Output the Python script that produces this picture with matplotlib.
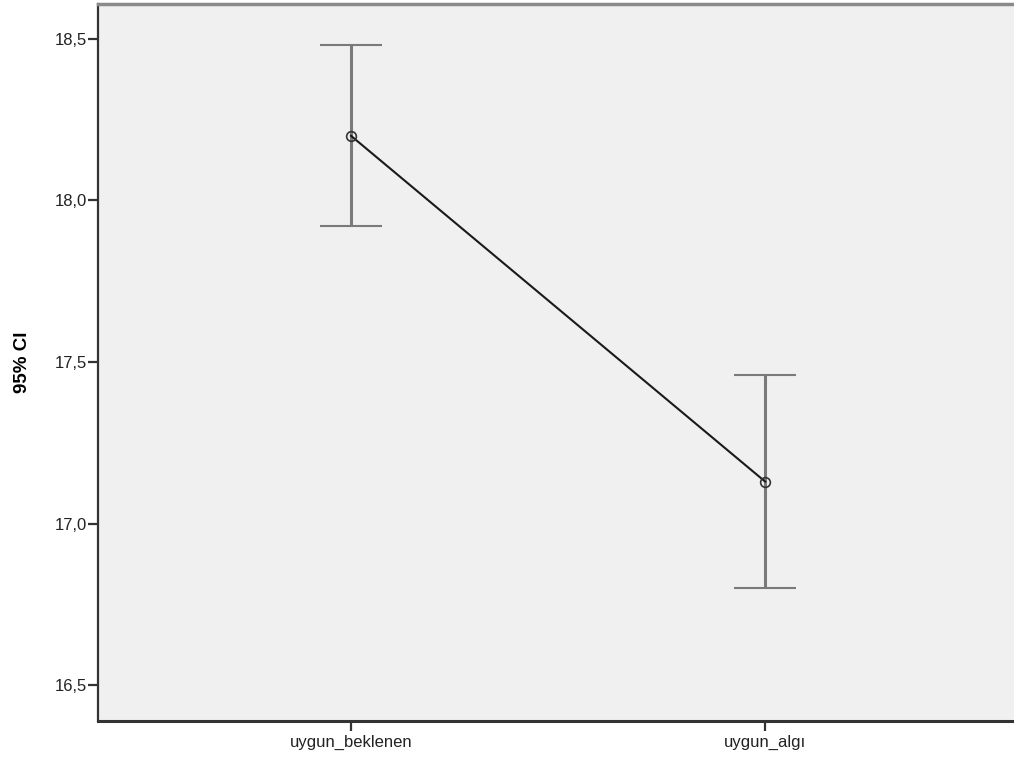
import numpy as np
import matplotlib
matplotlib.use("Agg")
import matplotlib.pyplot as plt
from matplotlib.ticker import FuncFormatter

plt.rcParams['font.family'] = ['Liberation Sans', 'DejaVu Sans']

# data
categories = ["uygun_beklenen", "uygun_algı"]
means = [18.20, 17.13]
ci_low = [17.92, 16.80]
ci_high = [18.48, 17.46]

means = np.array(means)
yerr = np.array([means - np.array(ci_low), np.array(ci_high) - means])
x = np.arange(len(categories))

fig = plt.figure(figsize=(10.14, 7.58), dpi=100)
ax = fig.add_axes([98/1014, 37/758, 1 - 98/1014, 717/758])
ax.set_facecolor("#f0f0f0")

# error bars
eb = ax.errorbar(x, means, yerr=yerr, fmt="none", ecolor="#7a7a7a",
                 elinewidth=2.2, capsize=22.3, capthick=1.5, zorder=2)
for cap in eb[1]:
    cap.set_color("#444444")

# mean line with open circles
ax.plot(x, means, color="#1a1a1a", lw=1.5, marker="o", markersize=7,
        markerfacecolor="none", markeredgecolor="#333333", markeredgewidth=1.2,
        zorder=3)

ax.set_xlim(-0.611, 1.601)
ax.set_ylim(16.389, 18.608)
ax.set_yticks([16.5, 17.0, 17.5, 18.0, 18.5])
ax.yaxis.set_major_formatter(FuncFormatter(lambda v, p: f"{v:.1f}".replace(".", ",")))
ax.set_xticks(x)
ax.set_xticklabels(categories)

ax.tick_params(axis="both", labelsize=12, color="#333333", width=1.6,
               length=7, labelcolor="#222222")
ax.tick_params(axis="y", pad=1)
ax.tick_params(axis="x", pad=3)

ax.set_ylabel("95% CI", fontsize=13.5, fontweight="bold", labelpad=17)

ax.spines["right"].set_visible(False)
ax.spines["left"].set_color("#333333")
ax.spines["left"].set_linewidth(1.6)
ax.spines["bottom"].set_color("#333333")
ax.spines["bottom"].set_linewidth(2.2)
ax.spines["top"].set_color("#8a8a8a")
ax.spines["top"].set_linewidth(2.5)

fig.savefig("out.png", dpi=100, facecolor="white")
